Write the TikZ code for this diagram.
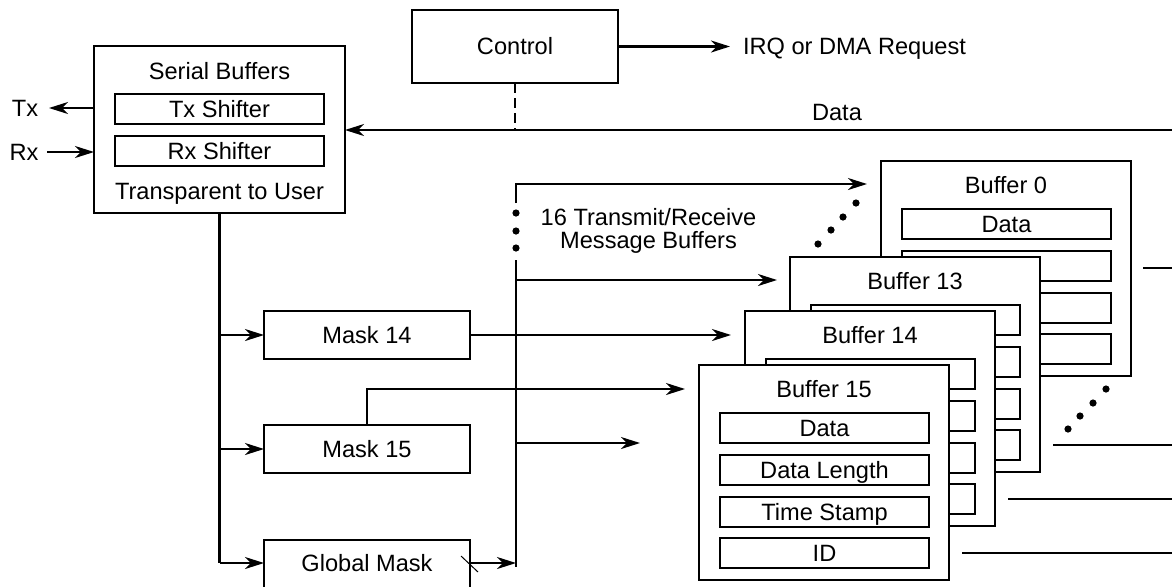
\documentclass[tikz,border=0pt]{standalone}
\usepackage{fontspec}
\setmainfont{Liberation Sans}
\usetikzlibrary{arrows.meta,calc}
\begin{document}
\begin{tikzpicture}[x=0.5pt,y=-0.5pt,
  every node/.style={font=\fontsize{11.8}{14}\selectfont},
  ln/.style={line width=1.1pt},
  arr/.style={line width=1.1pt,-{Stealth[length=9.5pt,width=6pt,inset=3pt]}},
  box/.style={draw,fill=white,line width=1.1pt,inner sep=0pt,outer sep=0pt,text height=8.45pt,text depth=0pt},
  lbl/.style={inner sep=0pt,outer sep=0pt,text height=8.45pt,text depth=0pt},
  bufbox/.style={box,minimum width=125pt,minimum height=107.5pt},
  fld/.style={box,minimum width=104.5pt,minimum height=15pt},
  mask/.style={box,minimum width=103pt,minimum height=24pt}
]
\useasboundingbox (0,0) rectangle (1172,586);
\clip (0,0) rectangle (1172,586);

% Serial buffers
\node[box,minimum width=125.5pt,minimum height=83.5pt] (sb) at (219.5,129.5) {};
\node[lbl] (sbt) at (219.5,71) {Serial Buffers};
\node[box,minimum width=104.5pt,minimum height=15pt] (tx) at (219.5,109) {Tx Shifter};
\node[box,minimum width=104.5pt,minimum height=15pt] (rx) at (219.5,151) {Rx Shifter};
\node[lbl] (sbu) at (219.5,191) {Transparent to User};
\node[lbl] (txl) at (25,108) {Tx};
\node[lbl] (rxl) at (24,152) {Rx};
\coordinate (txtip) at (49,108);
\coordinate (rxs) at (47,152);
\draw[arr] (sb.west |- txtip) -- (txtip);
\draw[arr] (rxs) -- (sb.west |- rxs);

% Control
\node[box,minimum width=103pt,minimum height=36.5pt] (ctrl) at (515,46.5) {Control};
\node[lbl,anchor=west] (irq) at (743,46.5) {IRQ or DMA Request};
\coordinate (irqtip) at (730,46.5);
\draw[arr] (ctrl.east) -- (irqtip);

% Data line
\coordinate (dR) at (1172,130);
\node[lbl] (datal) at (837,112) {Data};
\draw[arr] (dR) -- (sb.east |- dR);
\draw[ln,dash pattern=on 5pt off 2.5pt] (ctrl.south) -- (ctrl.south |- dR);

% Masks
\node[mask] (m14) at (367,335) {Mask 14};
\node[mask] (m15) at (367,449) {Mask 15};
\node[box,minimum width=103pt,minimum height=35pt,anchor=north] (gm) at (367,540) {};
\node[lbl] (gmt) at (367,563) {Global Mask};
\draw[line width=0.5pt] (461,556) -- (478,572);

\coordinate (sbv) at (219.5,563);
\draw[ln] (sb.south) -- (sbv);
\draw[arr] (sb.south |- m14) -- (m14);
\draw[arr] (sb.south |- m15) -- (m15);
\draw[arr] (sbv) -- (gm.west |- gmt);

% Bus
\coordinate (busA) at (516,203);
\coordinate (busB) at (516,260);
\coordinate (busE) at (516,567);
\coordinate (bt) at (516,184);
\coordinate (t0) at (867,184);
\coordinate (t13) at (777,280);
\coordinate (t14) at (731,335);
\coordinate (t15) at (685,389);
\coordinate (t16) at (640,443);
\draw[arr] (busA) -- (bt) -- (t0);
\draw[ln] (busB) -- (busE);
\draw[arr] (busB |- t13) -- (t13);
\draw[arr] (busB |- t16) -- (t16);
\draw[arr] (m14) -- (t14);
\draw[arr] (m15.north) |- (t15);
\draw[arr] (gm.east |- gmt) -- (busE |- gmt);

\node[lbl] (msg1) at (648.5,217) {16 Transmit/Receive};
\node[lbl] (msg2) at (648.5,240) {Message Buffers};

% Dots
\foreach \p in {(516,213),(516,231),(516,248),(818,244),(831,230),(843,217),(856,203),(1068,429),(1080,416),(1093,403),(1106,389)}
  \fill \p circle[radius=1.8pt];

% Buffer 0
\node[bufbox] (b0) at (1006,268.5) {};
\node[lbl] (b0t) at (1006,185) {Buffer 0};
\node[fld] (b0f1) at (1006.5,224) {Data};
\node[fld] (b0f2) at (1006.5,266) {};
\node[fld] (b0f3) at (1006.5,308) {};
\node[fld] (b0f4) at (1006.5,349) {};
% Buffer 13
\node[bufbox] (b13) at (915,364.5) {};
\node[lbl] (b13t) at (915,281) {Buffer 13};
\node[fld] (b13f1) at (915.5,320) {};
\node[fld] (b13f2) at (915.5,362) {};
\node[fld] (b13f3) at (915.5,404) {};
\node[fld] (b13f4) at (915.5,445) {};
% Buffer 14
\node[bufbox] (b14) at (870,418.5) {};
\node[lbl] (b14t) at (870,335) {Buffer 14};
\node[fld] (b14f1) at (870.5,374) {};
\node[fld] (b14f2) at (870.5,416) {};
\node[fld] (b14f3) at (870.5,458) {};
\node[fld] (b14f4) at (870.5,499) {};
% Buffer 15
\node[bufbox] (b15) at (824,472.5) {};
\node[lbl] (b15t) at (824,389) {Buffer 15};
\node[fld] (b15f1) at (824.5,428) {Data};
\node[fld] (b15f2) at (824.5,470) {Data Length};
\node[fld] (b15f3) at (824.5,512) {Time Stamp};
\node[fld] (b15f4) at (824.5,553) {ID};

% Right-side lines
\coordinate (e0) at (1172,268);
\coordinate (e13) at (1172,445);
\coordinate (e14) at (1172,499);
\coordinate (e15) at (1172,553);
\draw[ln] ($(b0.east |- e0)+(12,0)$) -- (e0);
\draw[ln] ($(b13.east |- e13)+(13,0)$) -- (e13);
\draw[ln] ($(b14.east |- e14)+(13,0)$) -- (e14);
\draw[ln] ($(b15.east |- e15)+(13,0)$) -- (e15);
\end{tikzpicture}
\end{document}
